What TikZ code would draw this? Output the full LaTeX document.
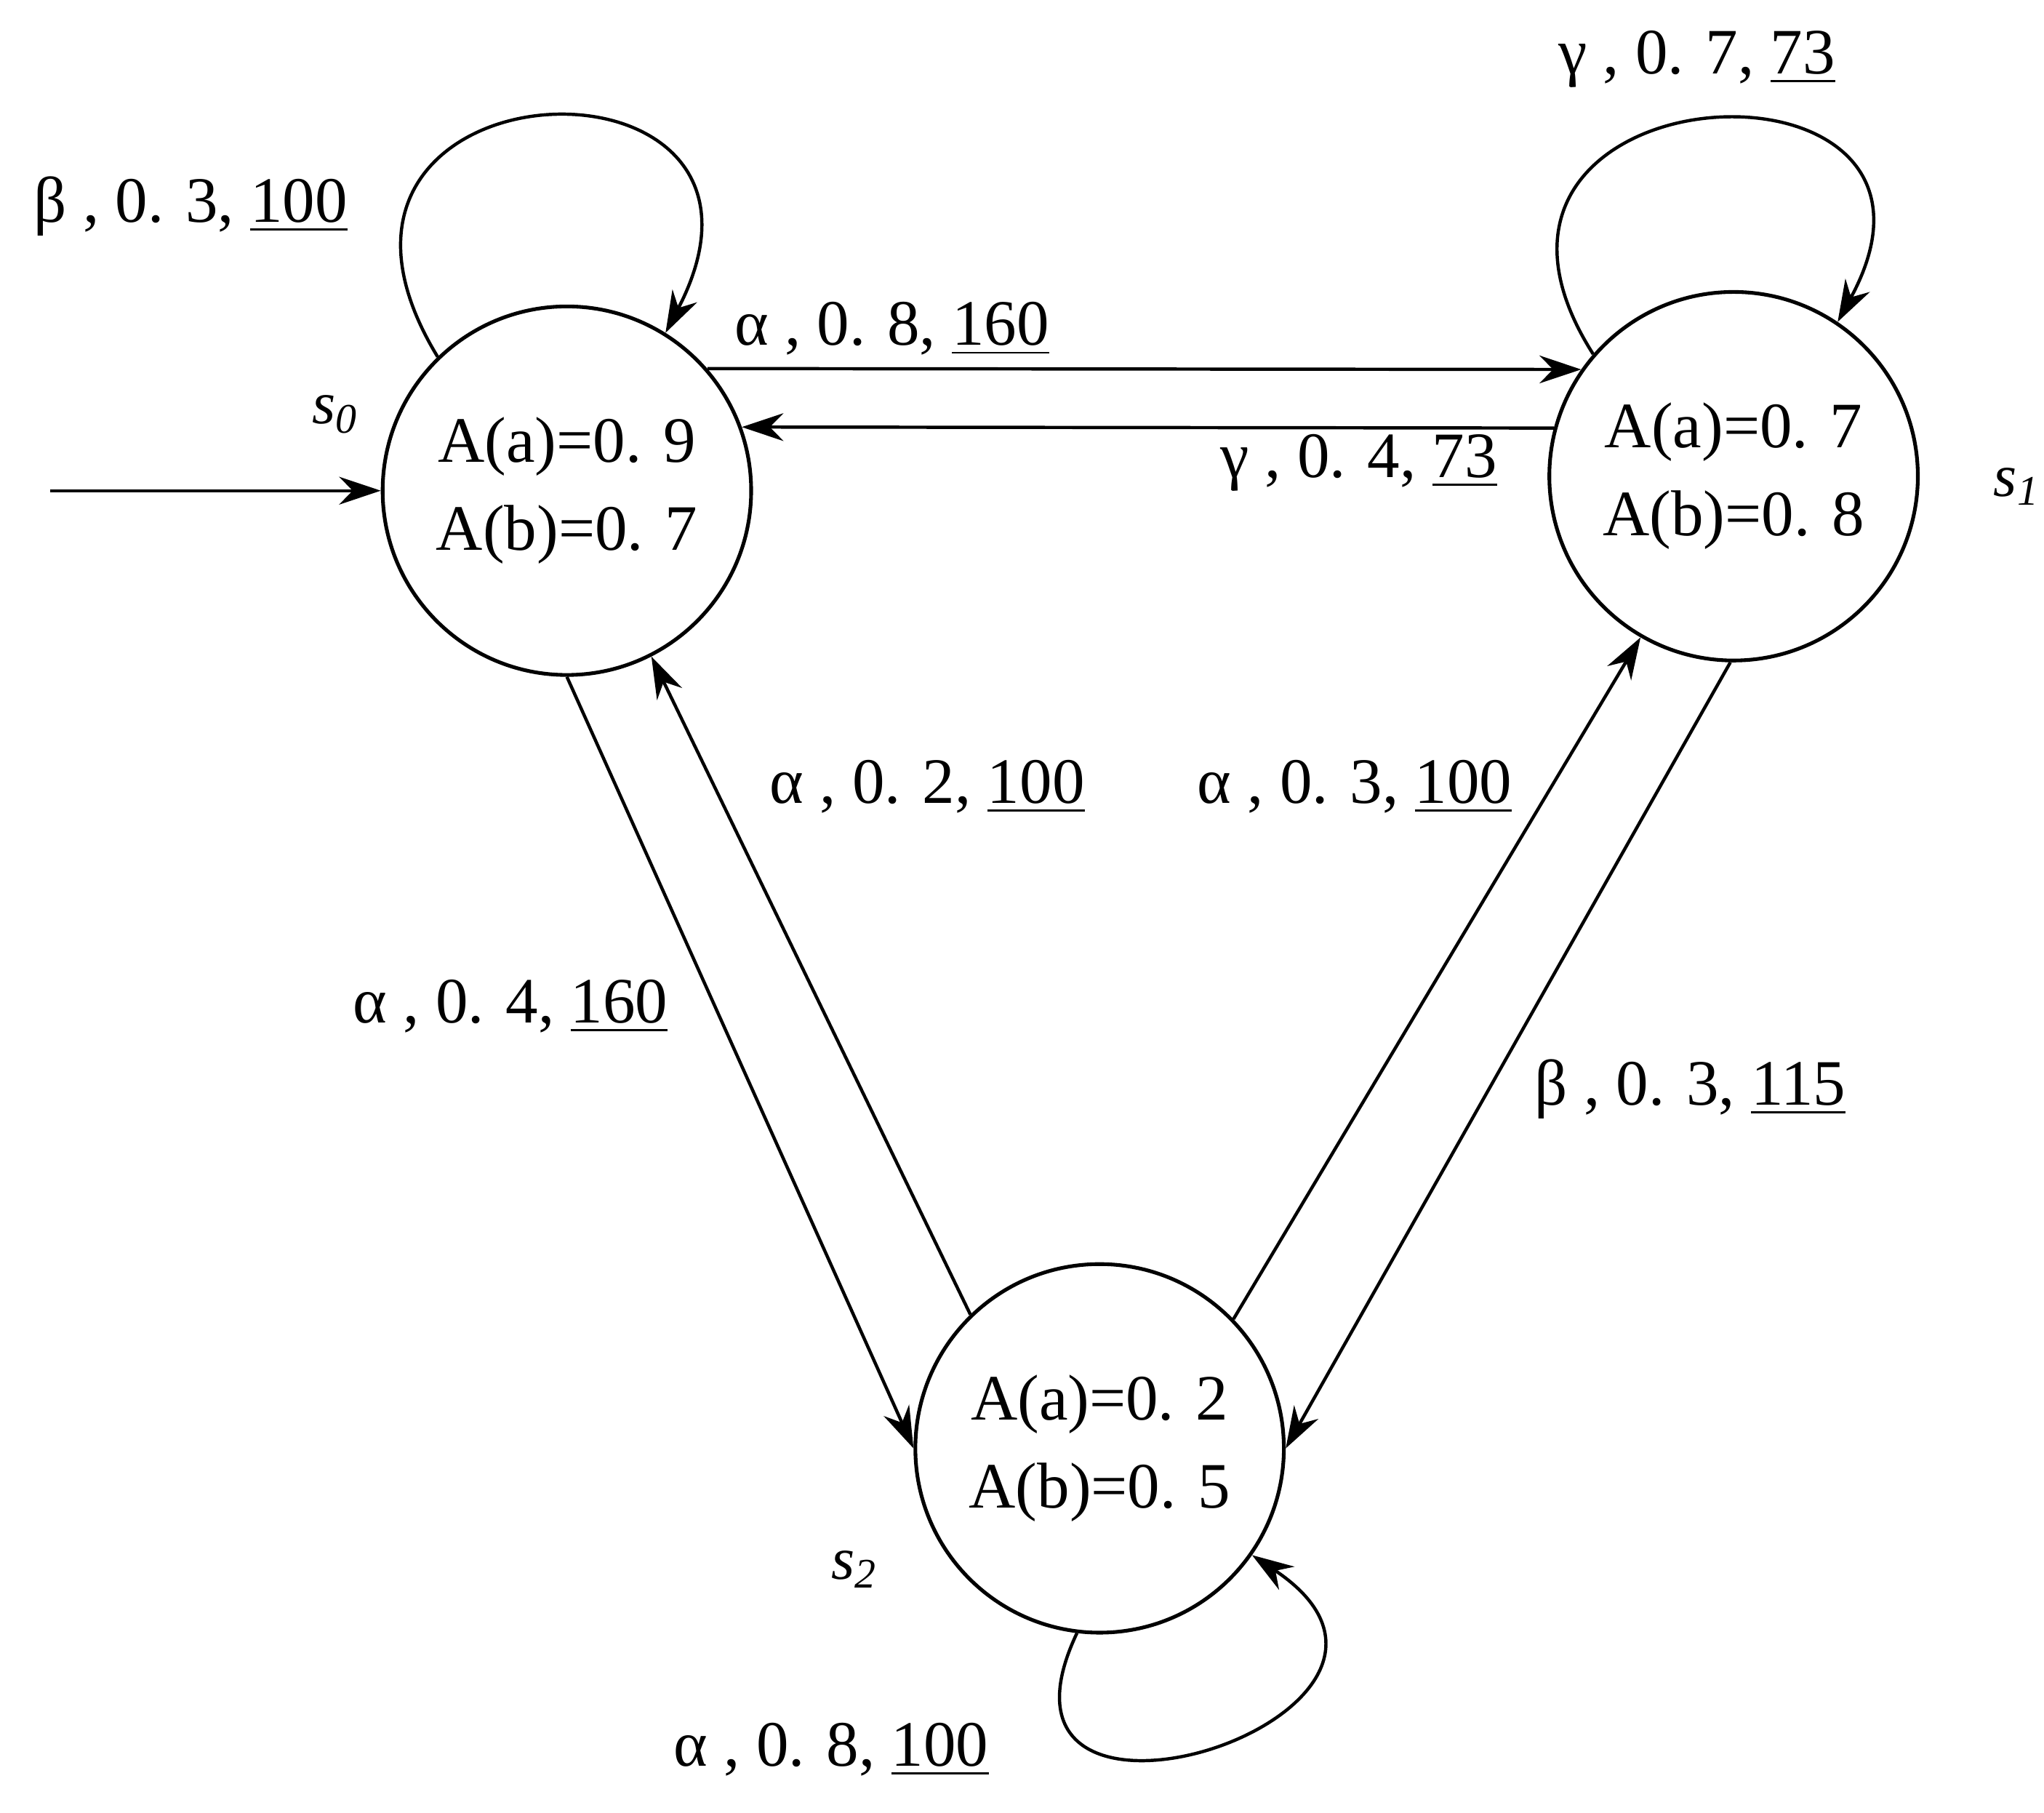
\documentclass[tikz,border=0pt]{standalone}
\usepackage{fontspec}
\setmainfont{Liberation Serif}
\usetikzlibrary{arrows.meta}
\begin{document}
\begin{tikzpicture}[x=0.01cm,y=-0.01cm,
  st/.style={circle,draw,line width=0.8pt,minimum size=2.8cm,inner sep=0pt,align=center,font=\fontsize{14}{19}\selectfont},
  lab/.style={font=\fontsize{14}{17}\selectfont,inner sep=0pt},
  sl/.style={font=\fontsize{13}{15}\selectfont\itshape,inner sep=0pt},
  ar/.style={draw,line width=0.7pt,-{Stealth[length=9pt,width=6pt]}}]
\useasboundingbox[fill=white] (0,0) rectangle (1554,1378);
\node[st] (s0) at (431,373) {A(a)=0. 9\\A(b)=0. 7};
\node[st] (s1) at (1318,362) {A(a)=0. 7\\A(b)=0. 8};
\node[st] (s2) at (836,1101) {A(a)=0. 2\\A(b)=0. 5};
\coordinate (init) at (38,373);
\draw[ar] (init) -- (s0.west);
\draw[ar] (s0.41) -- (s1.145);
\draw[ar] (s1.165) -- (s0.20);
\draw[ar] (s0.-90) -- (s2.180);
\draw[ar] (s2.134) -- (s0.-63);
\draw[ar] (s2.44) -- (s1.-120);
\draw[ar] (s1.-91) -- (s2.0);
\draw[ar] (s0.134) .. controls +(-140,-230) and +(120,-230) .. (s0.58);
\draw[ar] (s1.139) .. controls +(-140,-220) and +(120,-220) .. (s1.56);
\draw[ar] (s2.-97) .. controls +(-90,190) and +(180,120) .. (s2.-35);
\node[lab] at (145,157) {β , 0. 3, \underline{100}};
\node[lab] at (1290,45) {γ , 0. 7, \underline{73}};
\node[lab] at (678,250) {α , 0. 8, \underline{160}};
\node[lab] at (1033,352) {γ , 0. 4, \underline{73}};
\node[lab] at (705,598) {α , 0. 2, \underline{100}};
\node[lab] at (1030,598) {α , 0. 3, \underline{100}};
\node[lab] at (388,765) {α , 0. 4, \underline{160}};
\node[lab] at (1285,828) {β , 0. 3, \underline{115}};
\node[lab] at (632,1330) {α , 0. 8, \underline{100}};
\node[sl] at (255,315) {s\textsubscript{0}};
\node[sl,anchor=east] at (1552,370) {s\textsubscript{1}};
\node[sl] at (650,1193) {s\textsubscript{2}};
\end{tikzpicture}
\end{document}
